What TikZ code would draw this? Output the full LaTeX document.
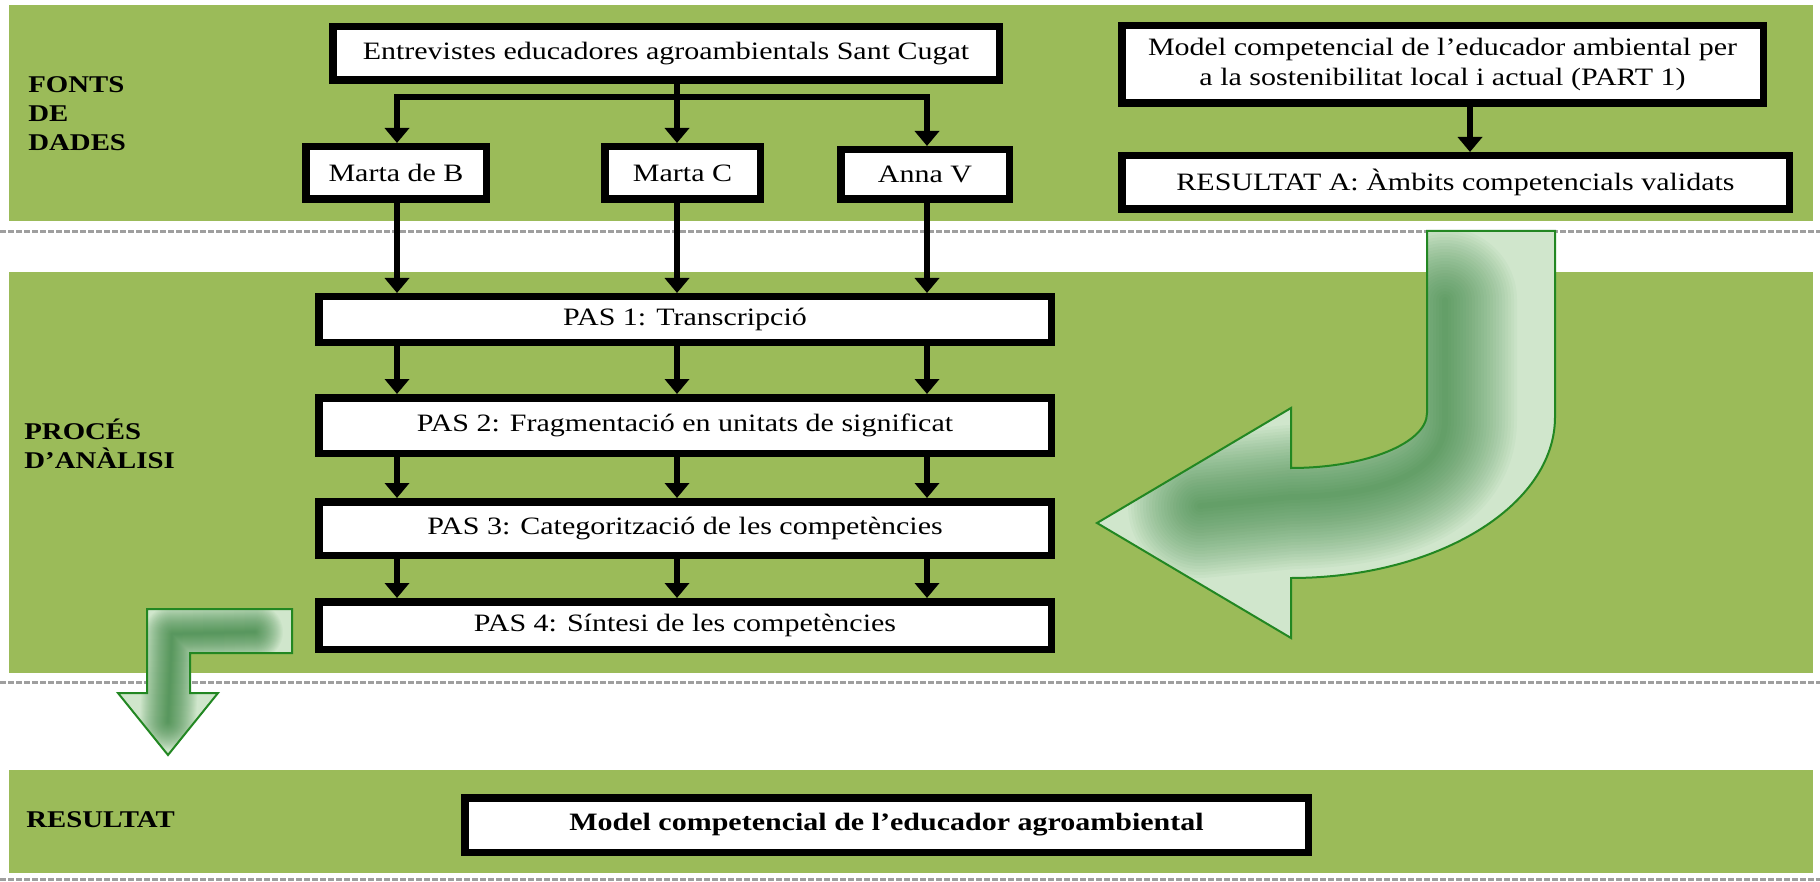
\documentclass[tikz,border=0pt]{standalone}
\usepackage{fontspec}
\setmainfont{Liberation Serif}[FakeStretch=1.2]
\usetikzlibrary{arrows.meta,positioning,calc}

\definecolor{bandgreen}{RGB}{155,187,89}
\definecolor{arrowedge}{RGB}{34,135,34}
\definecolor{arrowlight}{RGB}{208,230,204}
\definecolor{arrowdark}{RGB}{35,120,45}

\begin{document}
\begin{tikzpicture}[
    x=0.5pt, y=-0.5pt,
    >={Triangle[width=12pt,length=7.5pt]},
    band/.style={fill=bandgreen, draw=none},
    sepline/.style={draw=gray!75, line width=1.5pt, dash pattern=on 3pt off 1pt},
    stepbox/.style={rectangle, draw=black, line width=3.75pt, fill=white, inner sep=0pt, align=center, font=\fontsize{12.5}{15}\selectfont},
    pasbox/.style={stepbox, minimum width=366.25pt},
    sectlabel/.style={anchor=north west, inner sep=0pt, align=left, font=\fontsize{12}{14.5}\selectfont\bfseries},
    flow/.style={line width=3.25pt},
    bigarrow/.style={draw=arrowedge, line width=1pt, fill=arrowlight},
    glow/.style={draw=arrowdark, line cap=round, line join=round},
    line join=miter
    ]
    \useasboundingbox (0,0) rectangle (1820,882);
    \fill[white] (0,0) rectangle (1820,882);

    %Bands
    \fill[band] (9,5)   rectangle (1813,221);
    \fill[band] (9,272) rectangle (1813,673);
    \fill[band] (9,770) rectangle (1813,873);
    \draw[sepline] (0,232) -- (1820,232);
    \draw[sepline] (0,682) -- (1820,682);
    \draw[sepline] (0,879) -- (1820,879);

    %Labels
    \node[sectlabel] (fonts)    at (28,76)  {FONTS\\DE\\DADES};
    \node[sectlabel] (proces)   at (24,419) {PROCÉS\\D’ANÀLISI};
    \node[sectlabel] (resultat) at (26,811) {RESULTAT};

    %Nodes
    \node[stepbox, minimum width=333.25pt, minimum height=26.75pt] (entrev) at (666,53.5)    {Entrevistes educadores agroambientals Sant Cugat};
    \node[stepbox, minimum width=90.25pt,  minimum height=26.25pt] (martaB) at (396,173)     {Marta de B};
    \node[stepbox, minimum width=77.75pt,  minimum height=26.25pt] (martaC) at (682.5,173)   {Marta C};
    \node[stepbox, minimum width=84.25pt,  minimum height=24.75pt] (annaV)  at (925,174.5)   {Anna V};
    \node[stepbox, minimum width=320.75pt, minimum height=38.75pt] (model)  at (1442.5,64.5) {Model competencial de l’educador ambiental per\\a la sostenibilitat local i actual (PART 1)};
    \node[stepbox, minimum width=333.75pt, minimum height=26.75pt] (resA)   at (1455.5,182.5) {RESULTAT A: Àmbits competencials validats};
    \node[pasbox, minimum height=22.75pt] (pas1) at (685,319.5) {PAS 1: Transcripció};
    \node[pasbox, minimum height=27.75pt] (pas2) at (685,425.5) {PAS 2: Fragmentació en unitats de significat};
    \node[pasbox, minimum height=26.75pt] (pas3) at (685,528.5) {PAS 3: Categorització de les competències};
    \node[pasbox, minimum height=23.75pt] (pas4) at (685,625.5) {PAS 4: Síntesi de les competències};
    \node[stepbox, font=\fontsize{12.5}{15}\selectfont\bfseries, minimum width=421.75pt, minimum height=27.25pt] (final) at (886.5,825) {Model competencial de l’educador agroambiental};

    %Columns
    \coordinate (c1)    at (397,0);
    \coordinate (c2)    at (677,0);
    \coordinate (c3)    at (927,0);
    \coordinate (c4)    at (1470,0);
    \coordinate (split) at (677,97);

    %Lines
    \draw[flow,->]  (entrev.south -| c2) -- (martaC.north -| c2);
    \draw[flow,<->] (martaB.north -| c1) |- (split) -| (annaV.north -| c3);
    \draw[flow,->]  (martaB.south -| c1) -- (pas1.north -| c1);
    \draw[flow,->]  (martaC.south -| c2) -- (pas1.north -| c2);
    \draw[flow,->]  (annaV.south -| c3)  -- (pas1.north -| c3);
    \foreach \a/\b in {pas1/pas2, pas2/pas3, pas3/pas4}
        \foreach \c in {c1, c2, c3}
            \draw[flow,->] (\a.south -| \c) -- (\b.north -| \c);
    \draw[flow,->]  (model.south -| c4) -- (resA.north -| c4);

    %Turning arrow
    \def\turnpath{(1427,231) -- (1555,231) -- (1555,417)
        .. controls (1555,506) and (1437,578) .. (1291,578) -- (1291,638) -- (1097,523)
        -- (1291,408) -- (1291,468) .. controls (1366,468) and (1427,443) .. (1427,413) -- cycle}
    \fill[arrowlight] \turnpath;
    \begin{scope}
        \clip \turnpath;
        \foreach \w in {3,6,...,72}
            \draw[glow, line width=\w pt, opacity=.035]
                (1445,300) -- (1445,420) .. controls (1445,470) and (1390,495) .. (1291,497) -- (1200,506);
    \end{scope}
    \draw[bigarrow, fill=none] \turnpath;

    %Down arrow
    \def\downpath{(147,609) -- (292,609) -- (292,653) -- (190,653) -- (190,693) -- (218,693)
        -- (168,755) -- (118,693) -- (147,693) -- cycle}
    \fill[arrowlight] \downpath;
    \begin{scope}
        \clip \downpath;
        \foreach \w in {1,2,...,28}
            \draw[glow, line width=\w pt, opacity=.035]
                (255,632) -- (172,634) -- (168,722);
    \end{scope}
    \draw[bigarrow, fill=none] \downpath;
\end{tikzpicture}
\end{document}
